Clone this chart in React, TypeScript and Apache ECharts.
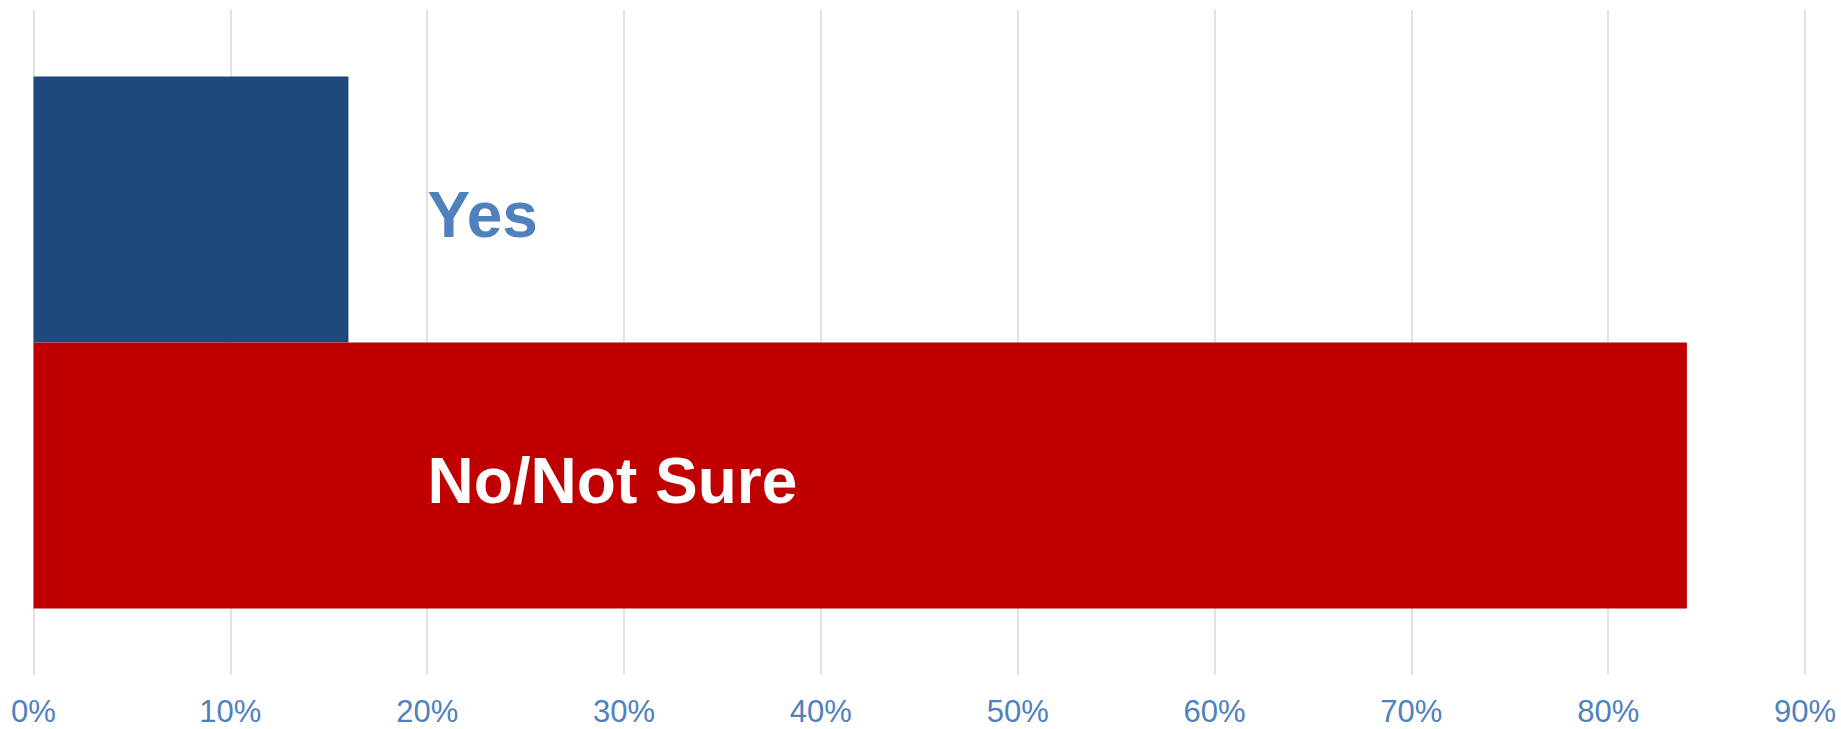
import React, { useEffect, useRef } from "react";
import * as echarts from "echarts";

const categories = ["Response"];
const seriesNames = ["Yes", "No/Not Sure"];
const yesValues = [16];
const noValues = [84];
const xTicks = [0, 10, 20, 30, 40, 50, 60, 70, 80, 90];

export default function App() {
  const ref = useRef<HTMLDivElement>(null);
  useEffect(() => {
    document.body.style.margin = "0";
    const chart = echarts.init(ref.current!, null, { renderer: "svg" });
    const font = "'Liberation Sans', Arial, sans-serif";
    chart.setOption({
      animation: false,
      backgroundColor: "#ffffff",
      grid: { left: 33.5, right: 36, top: 10, bottom: 54, containLabel: false },
      xAxis: {
        type: "value",
        min: xTicks[0],
        max: xTicks[xTicks.length - 1],
        interval: 10,
        axisLine: { show: false },
        axisTick: { show: false },
        splitLine: { show: true, lineStyle: { color: "#D9D9D9", width: 1.5 } },
        axisLabel: {
          formatter: (v: number) => v + "%",
          color: "#4F81BD",
          fontSize: 31,
          fontFamily: font,
          margin: 21,
        },
      },
      yAxis: {
        type: "category",
        data: categories,
        axisLine: { show: false },
        axisTick: { show: false },
        axisLabel: { show: false },
        splitLine: { show: false },
      },
      series: [
        {
          name: seriesNames[0],
          type: "bar",
          data: yesValues,
          barGap: "0%",
          barCategoryGap: "20%",
          itemStyle: { color: "#1F497D" },
          label: {
            show: true,
            formatter: seriesNames[0],
            position: [394, "50%"],
            align: "left",
            verticalAlign: "middle",
            offset: [0, 5],
            color: "#4F81BD",
            fontSize: 64,
            fontWeight: "bold",
            fontFamily: font,
          },
        },
        {
          name: seriesNames[1],
          type: "bar",
          data: noValues,
          barGap: "0%",
          barCategoryGap: "20%",
          itemStyle: { color: "#C00000" },
          label: {
            show: true,
            formatter: seriesNames[1],
            position: [394, "50%"],
            align: "left",
            verticalAlign: "middle",
            offset: [0, 5],
            color: "#FFFFFF",
            fontSize: 64,
            fontWeight: "bold",
            fontFamily: font,
          },
        },
      ],
    });
    return () => chart.dispose();
  }, []);
  return <div ref={ref} style={{ width: 1841, height: 729 }} />;
}
